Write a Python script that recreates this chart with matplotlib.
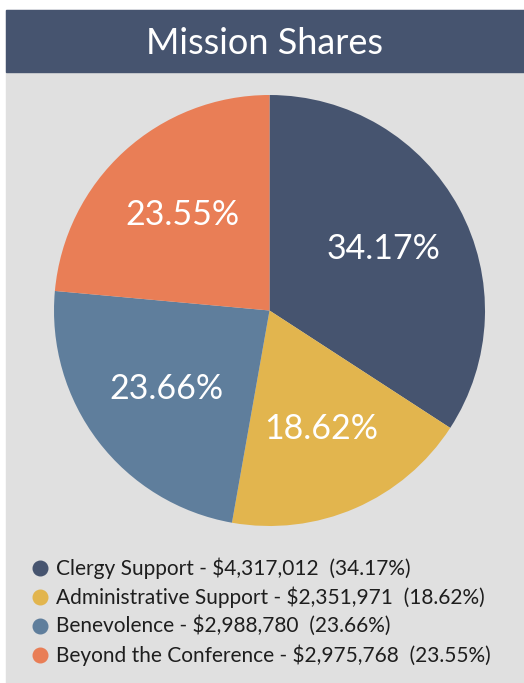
import numpy as np
import matplotlib.pyplot as plt
from matplotlib.patches import Rectangle

W, H = 524, 683

labels = ["Clergy Support", "Administrative Support", "Benevolence", "Beyond the Conference"]
amounts = [4317012, 2351971, 2988780, 2975768]
pcts = ["34.17%", "18.62%", "23.66%", "23.55%"]
colors = ["#46546f", "#e2b54e", "#5f7e9c", "#e97e56"]

plt.rcParams['font.family'] = ['Lato', 'DejaVu Sans']

fig = plt.figure(figsize=(W / 100, H / 100), dpi=100)
fig.patch.set_facecolor("white")

# background panel and title bar (pixel coords, origin top-left)
def px_rect(x0, y0, x1, y1, color):
    fig.patches.append(Rectangle((x0 / W, 1 - y1 / H), (x1 - x0) / W, (y1 - y0) / H,
                                 transform=fig.transFigure, color=color, zorder=-5))

px_rect(6, 10, W, H, "#e0e0e0")
px_rect(6, 10, W, 72, "#46546f")
fig.text((6 + W) / 2 / W, 1 - 43 / H, "Mission Shares", color="white",
         fontsize=26, ha="center", va="center")

# pie
cx, cy, r = 269.5, 310.5, 215.5
ax = fig.add_axes([(cx - r) / W, 1 - (cy + r) / H, 2 * r / W, 2 * r / H])
ax.set_zorder(1)
wedges, texts = ax.pie(amounts, colors=colors, startangle=90, counterclock=False,
                       radius=1.0, wedgeprops=dict(linewidth=0))
ax.set_xlim(-1, 1)
ax.set_ylim(-1, 1)
ax.set_aspect("equal")
ax.axis("off")

total = sum(amounts)
ang = 90.0
for a, p in zip(amounts, pcts):
    span = a / total * 360
    mid = np.deg2rad(ang - span / 2)
    ax.text(0.6 * np.cos(mid), 0.6 * np.sin(mid), p, color="white",
            fontsize=24.5, ha="center", va="center")
    ang -= span

# legend
for i, (lab, a, p, c) in enumerate(zip(labels, amounts, pcts, colors)):
    y = 1 - (568 + i * 29) / H
    fig.lines.append(plt.Line2D([40 / W], [y], marker="o", markersize=10.5, color=c,
                                transform=fig.transFigure, linestyle="none"))
    fig.text(56 / W, y, f"{lab} - ${a:,}  ({p})", color="#1e1e1e",
             fontsize=15, ha="left", va="center")

fig.savefig("out.png", dpi=100)
